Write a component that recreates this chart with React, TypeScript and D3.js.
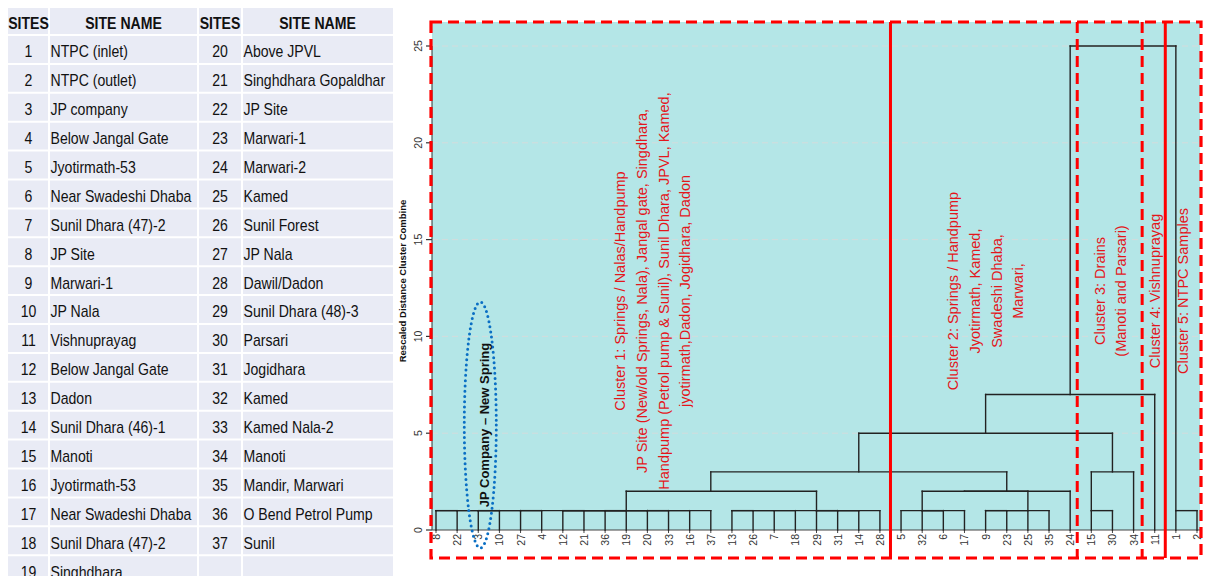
import React from "react";
import * as d3 from "d3";

// ---- site table ----
const tableHeaders = ["SITES", "SITE NAME", "SITES", "SITE NAME"];
const leftSiteIds = [1, 2, 3, 4, 5, 6, 7, 8, 9, 10, 11, 12, 13, 14, 15, 16, 17, 18, 19];
const leftSiteNames = [
  "NTPC (inlet)", "NTPC (outlet)", "JP company", "Below Jangal Gate", "Jyotirmath-53",
  "Near Swadeshi Dhaba", "Sunil Dhara (47)-2", "JP Site", "Marwari-1", "JP Nala",
  "Vishnuprayag", "Below Jangal Gate", "Dadon", "Sunil Dhara (46)-1", "Manoti",
  "Jyotirmath-53", "Near Swadeshi Dhaba", "Sunil Dhara (47)-2", "Singhdhara",
];
const rightSiteIds = [20, 21, 22, 23, 24, 25, 26, 27, 28, 29, 30, 31, 32, 33, 34, 35, 36, 37];
const rightSiteNames = [
  "Above JPVL", "Singhdhara Gopaldhar", "JP Site", "Marwari-1", "Marwari-2", "Kamed",
  "Sunil Forest", "JP Nala", "Dawil/Dadon", "Sunil Dhara (48)-3", "Parsari", "Jogidhara",
  "Kamed", "Kamed Nala-2", "Manoti", "Mandir, Marwari", "O Bend Petrol Pump", "Sunil",
];

// ---- dendrogram (rescaled distance, Ward-style output) ----
const leafOrder = [8, 22, 3, 10, 27, 4, 12, 21, 36, 19, 20, 33, 16, 37, 13, 26, 7, 18, 29, 31, 14, 28,
  5, 32, 6, 17, 9, 23, 25, 35, 24, 15, 30, 34, 11, 1, 2];

// [left, right, rescaled distance]; "sN" = site N, "mK" = K-th merge
const linkage: [string, string, number][] = [
  ["s8", "s22", 1], ["s3", "s10", 1], ["s27", "s4", 1], ["m0", "m1", 1], ["m3", "m2", 1],
  ["s12", "s21", 1], ["s36", "s19", 1], ["s20", "s33", 1], ["m5", "m6", 1], ["m8", "m7", 1],
  ["m9", "s16", 1], ["m4", "m10", 1], ["m11", "s37", 1],
  ["s13", "s26", 1], ["m13", "s7", 1], ["m14", "s18", 1], ["s29", "s31", 1], ["m16", "s14", 1],
  ["m17", "s28", 1], ["m15", "m18", 1],
  ["m12", "m19", 2],
  ["s32", "s6", 1], ["m21", "s17", 1], ["s5", "m22", 1],
  ["s9", "s23", 1], ["m24", "s25", 1], ["m25", "s35", 1],
  ["m23", "m26", 2], ["m27", "s24", 2],
  ["m20", "m28", 3],
  ["s15", "s30", 1], ["m30", "s34", 3],
  ["m29", "m31", 5],
  ["m32", "s11", 7],
  ["s1", "s2", 1],
  ["m33", "m34", 25],
];

const yTicks = [0, 5, 10, 15, 20, 25];

// ---- clusters (consecutive runs of leaves) ----
const clusterSizes = [22, 9, 3, 1, 2];
const clusterLabels = [
  [
    "Cluster 1: Springs / Nalas/Handpump",
    "JP Site (New/old Springs, Nala), Jangal gate, Singdhara,",
    "Handpump (Petrol pump & Sunil), Sunil Dhara, JPVL, Kamed,",
    "jyotirmath,Dadon, Jogidhara, Dadon",
  ],
  ["Cluster 2: Springs / Handpump", "Jyotirmath, Kamed,", "Swadeshi Dhaba,", "Marwari,"],
  ["Cluster 3: Drains", "(Manoti and Parsari)"],
  ["Cluster 4: Vishnuprayag"],
  ["Cluster 5: NTPC Samples"],
];
const separatorStyles = ["solid", "dashed", "dashed", "solid"];
const highlightLabel = "JP Company \u2013 New Spring";
const highlightSite = 3;
const axisTitle = "Rescaled Distance Cluster Combine";

// ---- layout & style ----
const W = 1205;
const H = 576;
const FONT = "'Liberation Sans', Arial, Helvetica, sans-serif";
const RED = "#ff0000";
const RED_TEXT = "#e3161c";
const TEAL = "#b4e6e7";
const BLUE = "#0a6fc4";
const TABLE_FILL = "#e9ebf5";

const tbl = { x: 8, y: 8, headH: 27, rowH: 28.9, cols: [8, 49, 198, 242, 393] };
const panel = { left: 432, right: 1200, top: 22, bottom: 530 };
const box = { left: 431, right: 1201, top: 22, bottom: 558 };
const labelShift = [-8, 2, 1, 1, 0];
const separatorNudge = [0, -3.5, -2, 0];

function SiteTable() {
  const c = tbl.cols;
  const rows = Math.max(leftSiteIds.length, rightSiteIds.length);
  const rowTop = (i: number) => tbl.y + tbl.headH + i * tbl.rowH;
  const sx = 0.88;
  const txt = (x: number, y: number, s: string | number, anchor: string, bold = false, key?: string) => (
    <text
      key={key}
      transform={`translate(${x},${y}) scale(${sx},1)`}
      textAnchor={anchor}
      fontFamily={FONT}
      fontSize={16}
      fontWeight={bold ? "bold" : "normal"}
      fill="#111"
    >
      {s}
    </text>
  );
  const bottom = rowTop(rows);
  return (
    <g>
      <rect x={c[0]} y={tbl.y} width={c[4] - c[0]} height={bottom - tbl.y} fill={TABLE_FILL} />
      {d3.range(rows + 1).map((i) => (
        <line key={"h" + i} x1={c[0]} x2={c[4]} y1={rowTop(i)} y2={rowTop(i)} stroke="#fff" strokeWidth={2} />
      ))}
      {c.slice(1, 4).map((x, i) => (
        <line key={"v" + i} x1={x} x2={x} y1={tbl.y} y2={bottom} stroke="#fff" strokeWidth={2} />
      ))}
      {tableHeaders.map((h, i) => txt((c[i] + c[i + 1]) / 2, tbl.y + 20.5, h, "middle", true, "th" + i))}
      {leftSiteIds.map((id, i) => txt((c[0] + c[1]) / 2, rowTop(i) + 22.3, id, "middle", false, "li" + i))}
      {leftSiteNames.map((n, i) => txt(c[1] + 1.5, rowTop(i) + 22.3, n, "start", false, "ln" + i))}
      {rightSiteIds.map((id, i) => txt((c[2] + c[3]) / 2, rowTop(i) + 22.3, id, "middle", false, "ri" + i))}
      {rightSiteNames.map((n, i) => txt(c[3] + 1.5, rowTop(i) + 22.3, n, "start", false, "rn" + i))}
    </g>
  );
}

function Dendrogram() {
  const x = d3.scaleLinear().domain([0, leafOrder.length - 1]).range([436, 1197]);
  const y = d3.scaleLinear().domain([0, 25]).range([panel.bottom, 46]);

  // walk the linkage; each node sits on the leaf column nearest its children's midpoint
  const nodes = new Map<string, { i: number; h: number }>();
  leafOrder.forEach((s, i) => nodes.set("s" + s, { i, h: 0 }));
  const segs: { x1: number; y1: number; x2: number; y2: number }[] = [];
  linkage.forEach(([a, b, h], k) => {
    const na = nodes.get(a)!;
    const nb = nodes.get(b)!;
    segs.push({ x1: x(na.i), y1: y(na.h), x2: x(na.i), y2: y(h) });
    segs.push({ x1: x(nb.i), y1: y(nb.h), x2: x(nb.i), y2: y(h) });
    segs.push({ x1: x(na.i), y1: y(h), x2: x(nb.i), y2: y(h) });
    nodes.set("m" + k, { i: Math.floor((na.i + nb.i) / 2), h });
  });

  // cluster spans in leaf-index units
  const starts = clusterSizes.map((_, k) => d3.sum(clusterSizes.slice(0, k)));
  const seps = starts.slice(1).map((s, k) => (x(s - 1) + x(s)) / 2 + separatorNudge[k]);
  const spans = clusterSizes.map((n, k) => {
    const l = k === 0 ? box.left : seps[k - 1];
    const r = k === clusterSizes.length - 1 ? box.right : seps[k];
    return (l + r) / 2 + labelShift[k];
  });

  const hx = x(leafOrder.indexOf(highlightSite)) + 3;
  const hy = 425;

  return (
    <g>
      <rect x={panel.left} y={panel.top} width={panel.right - panel.left} height={panel.bottom - panel.top} fill={TEAL} />
      {yTicks.slice(1).map((t) => (
        <line key={"g" + t} x1={panel.left} x2={panel.right} y1={y(t)} y2={y(t)} stroke="#d3dcdc" strokeWidth={1} strokeDasharray="6 4" />
      ))}

      {/* axis */}
      <line x1={panel.left} x2={panel.left} y1={y(0)} y2={y(25)} stroke="#333" strokeWidth={1} />
      <line x1={panel.left} x2={panel.right} y1={y(0)} y2={y(0)} stroke="#444" strokeWidth={1} />
      {yTicks.map((t) => (
        <g key={"t" + t}>
          <line x1={panel.left - 6} x2={panel.left} y1={y(t)} y2={y(t)} stroke="#333" strokeWidth={1.2} />
          <text
            transform={`translate(${418},${y(t)}) rotate(-90)`}
            textAnchor="middle"
            dominantBaseline="central"
            fontFamily={FONT}
            fontSize={10.5}
            fill="#333"
          >
            {t}
          </text>
        </g>
      ))}
      <text
        transform={`translate(${402},${281}) rotate(-90)`}
        textAnchor="middle"
        dominantBaseline="central"
        fontFamily={FONT}
        fontSize={9.5}
        fontWeight="bold"
        fill="#111"
      >
        {axisTitle}
      </text>

      {/* leaf ticks and labels */}
      {leafOrder.map((s, i) => (
        <g key={"leaf" + s}>
          <line x1={x(i)} x2={x(i)} y1={y(0)} y2={y(0) + 3} stroke="#444" strokeWidth={1} />
          <text
            transform={`translate(${x(i)},${y(0) + 4}) rotate(-90)`}
            textAnchor="end"
            dominantBaseline="central"
            fontFamily={FONT}
            fontSize={10.5}
            fill="#333"
          >
            {s}
          </text>
        </g>
      ))}

      {/* tree */}
      {segs.map((s, i) => (
        <line key={"s" + i} x1={s.x1} y1={s.y1} x2={s.x2} y2={s.y2} stroke="#222" strokeWidth={1.4} strokeLinecap="square" />
      ))}

      {/* cluster annotations */}
      {clusterLabels.map((lines, k) => (
        <g key={"cl" + k}>
          {lines.map((ln, j) => (
            <text
              key={j}
              transform={`translate(${spans[k] + (j - (lines.length - 1) / 2) * 21.6},${291}) rotate(-90)`}
              textAnchor="middle"
              dominantBaseline="central"
              fontFamily={FONT}
              fontSize={14.5}
              fill={RED_TEXT}
            >
              {ln}
            </text>
          ))}
        </g>
      ))}

      {/* highlighted site */}
      <ellipse cx={hx - 1} cy={hy} rx={16} ry={123} fill="none" stroke={BLUE} strokeWidth={3} strokeDasharray="0 5.2" strokeLinecap="round" />
      <text
        transform={`translate(${hx + 3},${hy}) rotate(-90)`}
        textAnchor="middle"
        dominantBaseline="central"
        fontFamily={FONT}
        fontSize={13}
        fontWeight="bold"
        fill="#111"
      >
        {highlightLabel}
      </text>

      {/* cluster boxes */}
      <rect
        x={box.left}
        y={box.top}
        width={box.right - box.left}
        height={box.bottom - box.top}
        fill="none"
        stroke={RED}
        strokeWidth={3.2}
        strokeDasharray="11 6"
      />
      {seps.map((sx, k) => (
        <line
          key={"sep" + k}
          x1={sx}
          x2={sx}
          y1={box.top}
          y2={box.bottom}
          stroke={RED}
          strokeWidth={3}
          strokeDasharray={separatorStyles[k] === "dashed" ? "11 6" : undefined}
        />
      ))}
    </g>
  );
}

export default function App() {
  return (
    <svg width={W} height={H} style={{ position: "absolute", left: 0, top: 0, background: "#fff" }}>
      <rect width={W} height={H} fill="#fff" />
      <SiteTable />
      <Dendrogram />
    </svg>
  );
}
